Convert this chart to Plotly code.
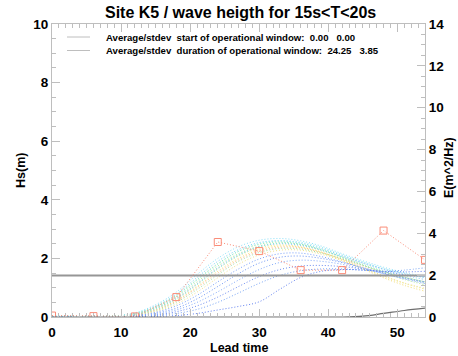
import plotly.graph_objects as go

# ---------------- data ----------------
lead_time = [0, 3, 6, 9, 12, 15, 18, 21, 24, 27, 30, 33, 36, 39, 42, 45, 48, 51, 54]

member_colors = {
    "m01": "rgb(140,225,250)", "m02": "rgb(120,210,245)", "m03": "rgb(150,230,150)",
    "m04": "rgb(170,235,140)", "m05": "rgb(240,230,120)", "m06": "rgb(245,220,110)",
    "m07": "rgb(255,185,140)", "m08": "rgb(130,190,250)", "m09": "rgb(140,235,225)",
    "m10": "rgb(160,225,160)", "m11": "rgb(240,225,140)", "m12": "rgb(120,160,250)",
    "m13": "rgb(110,150,245)", "m14": "rgb(130,170,250)", "m15": "rgb(110,140,240)",
    "m16": "rgb(120,165,245)", "m17": "rgb(100,130,240)", "m18": "rgb(150,235,240)",
}

m01 = [0.03, 0.03, 0.03, 0.04, 0.14, 0.42, 0.85, 1.45, 2.00, 2.40, 2.62, 2.68, 2.60, 2.42, 2.16, 1.92, 1.70, 1.52, 1.38]
m02 = [0.03, 0.03, 0.03, 0.04, 0.12, 0.38, 0.78, 1.35, 1.90, 2.30, 2.54, 2.60, 2.52, 2.34, 2.10, 1.86, 1.62, 1.42, 1.28]
m03 = [0.02, 0.02, 0.02, 0.03, 0.11, 0.35, 0.74, 1.28, 1.82, 2.24, 2.48, 2.56, 2.48, 2.30, 2.05, 1.80, 1.56, 1.36, 1.20]
m04 = [0.02, 0.02, 0.02, 0.03, 0.10, 0.32, 0.68, 1.20, 1.74, 2.16, 2.42, 2.52, 2.46, 2.28, 2.02, 1.76, 1.50, 1.28, 1.10]
m05 = [0.02, 0.02, 0.02, 0.02, 0.09, 0.29, 0.62, 1.12, 1.65, 2.08, 2.36, 2.46, 2.40, 2.22, 1.96, 1.68, 1.40, 1.15, 0.95]
m06 = [0.01, 0.01, 0.01, 0.02, 0.08, 0.26, 0.56, 1.04, 1.56, 2.00, 2.30, 2.42, 2.38, 2.20, 1.94, 1.64, 1.34, 1.08, 0.88]
m07 = [0.01, 0.01, 0.01, 0.02, 0.07, 0.24, 0.54, 1.00, 1.50, 1.95, 2.25, 2.38, 2.36, 2.20, 1.98, 1.74, 1.52, 1.34, 1.18]
m08 = [0.02, 0.02, 0.02, 0.02, 0.09, 0.30, 0.64, 1.14, 1.68, 2.12, 2.40, 2.50, 2.44, 2.28, 2.06, 1.84, 1.64, 1.48, 1.36]
m09 = [0.02, 0.02, 0.02, 0.02, 0.08, 0.28, 0.60, 1.10, 1.64, 2.10, 2.40, 2.52, 2.48, 2.30, 2.04, 1.78, 1.54, 1.34, 1.18]
m10 = [0.01, 0.01, 0.01, 0.02, 0.07, 0.22, 0.50, 0.94, 1.44, 1.90, 2.20, 2.34, 2.32, 2.18, 1.98, 1.76, 1.54, 1.36, 1.20]
m11 = [0.01, 0.01, 0.01, 0.01, 0.06, 0.19, 0.44, 0.85, 1.34, 1.80, 2.12, 2.28, 2.28, 2.14, 1.92, 1.66, 1.40, 1.16, 0.98]
m12 = [0.01, 0.01, 0.01, 0.01, 0.05, 0.16, 0.38, 0.74, 1.20, 1.64, 1.98, 2.16, 2.18, 2.06, 1.88, 1.68, 1.48, 1.30, 1.14]
m13 = [0.01, 0.01, 0.01, 0.01, 0.04, 0.13, 0.30, 0.62, 1.04, 1.48, 1.84, 2.04, 2.08, 2.00, 1.86, 1.68, 1.50, 1.34, 1.20]
m14 = [0.00, 0.00, 0.00, 0.01, 0.03, 0.10, 0.24, 0.50, 0.86, 1.26, 1.62, 1.86, 1.94, 1.90, 1.80, 1.64, 1.48, 1.32, 1.18]
m15 = [0.00, 0.00, 0.00, 0.00, 0.02, 0.07, 0.18, 0.38, 0.68, 1.04, 1.38, 1.62, 1.74, 1.76, 1.72, 1.64, 1.54, 1.44, 1.36]
m16 = [0.00, 0.00, 0.00, 0.00, 0.01, 0.05, 0.12, 0.26, 0.50, 0.82, 1.15, 1.42, 1.58, 1.64, 1.64, 1.60, 1.56, 1.60, 1.68]
m17 = [0.00, 0.00, 0.00, 0.00, 0.00, 0.02, 0.05, 0.12, 0.24, 0.36, 0.52, 0.95, 1.35, 1.56, 1.62, 1.60, 1.56, 1.54, 1.56]
m18 = [0.02, 0.02, 0.02, 0.03, 0.10, 0.34, 0.72, 1.26, 1.80, 2.24, 2.50, 2.60, 2.55, 2.38, 2.12, 1.88, 1.66, 1.48, 1.34]
members = {"m01": m01, "m02": m02, "m03": m03, "m04": m04, "m05": m05, "m06": m06,
           "m07": m07, "m08": m08, "m09": m09, "m10": m10, "m11": m11, "m12": m12,
           "m13": m13, "m14": m14, "m15": m15, "m16": m16, "m17": m17, "m18": m18}

obs_time = [0, 6, 12, 18, 24, 30, 36, 42, 48, 54]
obs_hs = [0.05, 0.03, 0.02, 0.68, 2.56, 2.25, 1.60, 1.60, 2.95, 1.95]

threshold_hs = 1.42

energy = [0, 0, 0, 0, 0, 0, 0, 0, 0, 0, 0, 0, 0, 0, 0.0, 0.04, 0.17, 0.31, 0.42]

title_text = "Site K5 / wave heigth for 15s<T<20s"
legend_lines = ["Average/stdev  start of operational window:  0.00   0.00",
                "Average/stdev  duration of operational window:  24.25   3.85"]

# ---------------- figure ----------------
FONT = "Liberation Sans"
AX = "rgb(190,190,190)"

fig = go.Figure()

for name, vals in members.items():
    fig.add_trace(go.Scatter(x=lead_time, y=vals, mode="lines", line_shape="spline",
                             line=dict(color=member_colors[name], width=1, dash="1px,2px"),
                             showlegend=False, hoverinfo="skip"))

fig.add_trace(go.Scatter(x=[lead_time[0], lead_time[-1]], y=[threshold_hs, threshold_hs],
                         mode="lines", line=dict(color="rgb(150,150,150)", width=2),
                         showlegend=False))

fig.add_trace(go.Scatter(x=obs_time, y=obs_hs, mode="lines+markers",
                         line=dict(color="rgb(250,140,120)", width=1, dash="1px,2px"),
                         marker=dict(symbol="square-open", size=7, color="rgb(250,140,120)",
                                     line=dict(width=1)),
                         showlegend=False))

fig.add_trace(go.Scatter(x=lead_time, y=energy, mode="lines", line_shape="spline",
                         line=dict(color="rgb(110,110,110)", width=1.2),
                         yaxis="y2", showlegend=False))

tickfont = dict(family=FONT, size=13.5, color="black", weight="bold")

fig.update_layout(
    width=458, height=356,
    margin=dict(l=52, r=33, t=24, b=39),
    paper_bgcolor="white", plot_bgcolor="white",
    showlegend=False,
    xaxis=dict(range=[0, 54], dtick=10, tick0=0, ticks="inside", ticklen=8, tickcolor=AX,
               showline=True, linecolor=AX, linewidth=1, mirror="ticks",
               showgrid=False, zeroline=False, tickfont=tickfont, ticklabelstandoff=3,
               minor=dict(dtick=1, ticks="inside", ticklen=4, tickcolor=AX, showgrid=False)),
    yaxis=dict(range=[0, 10], dtick=2, tick0=0, ticks="inside", ticklen=8, tickcolor=AX,
               showline=True, linecolor=AX, linewidth=1, mirror=True,
               showgrid=False, zeroline=False, tickfont=tickfont,
               minor=dict(dtick=0.5, ticks="inside", ticklen=4, tickcolor=AX, showgrid=False)),
    yaxis2=dict(range=[0, 14], dtick=2, tick0=0, overlaying="y", side="right",
                ticks="inside", ticklen=8, tickcolor=AX,
                showline=True, linecolor=AX, linewidth=1,
                showgrid=False, zeroline=False, tickfont=tickfont,
                minor=dict(dtick=0.5, ticks="inside", ticklen=4, tickcolor=AX, showgrid=False)),
)

annotations = [
    dict(text=title_text, x=240, y=12),
    dict(text="Lead time", x=239, y=348, size=12.5),
    dict(text="Hs(m)", x=21, y=171, size=12.5, angle=-90),
    dict(text="E(m^2/Hz)", x=449, y=168, size=12.5, angle=-90),
]
for a in annotations:
    fig.add_annotation(text=a["text"], xref="paper", yref="paper",
                       x=(a["x"] - 52) / 373, y=(317 - a["y"]) / 293,
                       xanchor="center", yanchor="middle", showarrow=False,
                       textangle=a.get("angle", 0),
                       font=dict(family=FONT, size=a.get("size", 16), color="black", weight="bold"))

for i, txt in enumerate(legend_lines):
    ypix = 37 + 13.5 * i
    yp = (317 - ypix) / 293
    fig.add_shape(type="line", xref="paper", yref="paper",
                  x0=(67 - 52) / 373, x1=(90 - 52) / 373, y0=yp, y1=yp,
                  line=dict(color="rgb(190,190,190)", width=1))
    fig.add_annotation(text=txt, xref="paper", yref="paper", x=(104 - 52) / 373, y=yp,
                       xanchor="left", yanchor="middle", showarrow=False,
                       font=dict(family=FONT, size=9.6, color="black", weight="bold"))

fig.write_html("out.html")
